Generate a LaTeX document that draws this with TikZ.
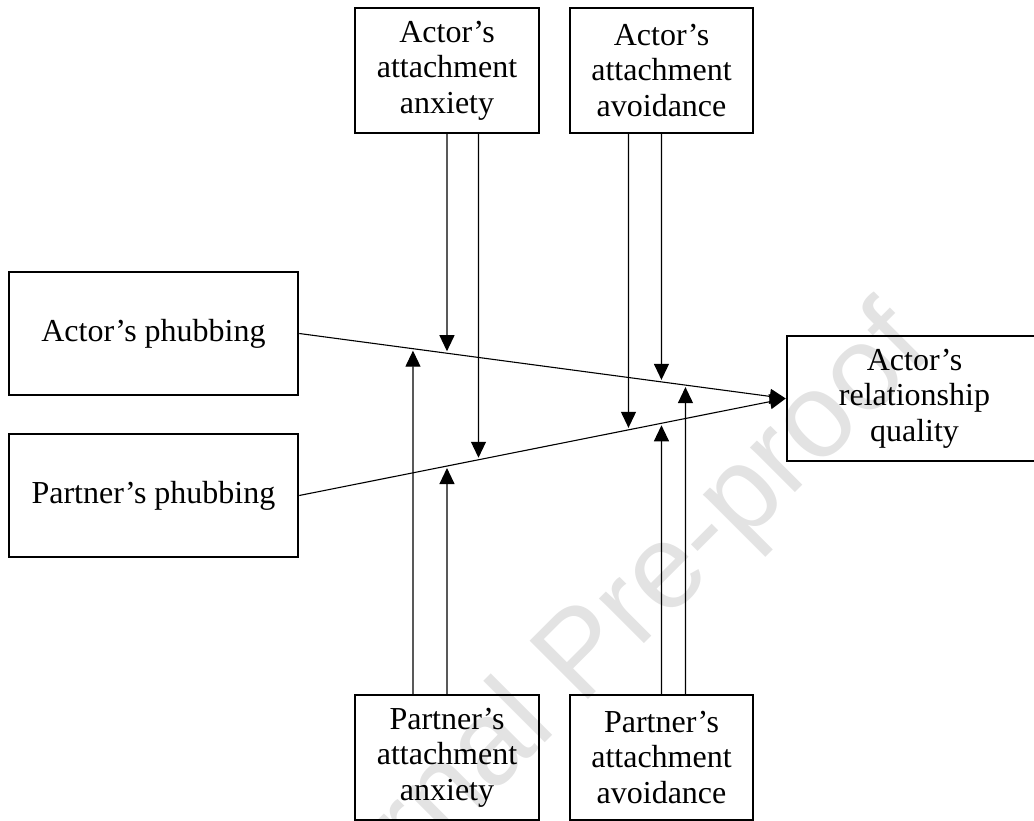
\documentclass[tikz,border=0pt]{standalone}
\usepackage{fontspec}
\setmainfont{Liberation Serif}
\newfontfamily\wmfont{Liberation Sans}
\usetikzlibrary{arrows.meta,calc}
\begin{document}
\begin{tikzpicture}[x=1pt,y=-1pt,
  box/.style={draw, line width=2.5pt, inner sep=0pt, align=center, font=\fontsize{32}{35.5}\selectfont},
  link/.style={line width=1.1pt, -{Triangle[length=16pt,width=15pt]}},
  mod/.style={link, shorten >=2pt},
  wm/.style={inner sep=0pt, anchor=base west, rotate=45, text=black!11, font=\wmfont\fontsize{120}{120}\selectfont}]
\useasboundingbox (0,0) rectangle (1034,821);
\begin{scope}
\clip (0,0) rectangle (1034,821);
\node[wm] (mark) at (280,1008) {Journal Pre-proof};
\node[box, minimum width=184pt, minimum height=125pt] (aanx) at (447,70.5) {Actor’s\\attachment\\anxiety};
\node[box, minimum width=183pt, minimum height=125pt] (aavo) at (661.5,70.5) {Actor’s\\attachment\\avoidance};
\node[box, minimum width=184pt, minimum height=125pt] (panx) at (447,757.5) {Partner’s\\attachment\\anxiety};
\node[box, minimum width=183pt, minimum height=125pt] (pavo) at (661.5,757.5) {Partner’s\\attachment\\avoidance};
\node[box, minimum width=289pt, minimum height=123pt] (ap) at (153.5,333.5) {Actor’s phubbing};
\node[box, minimum width=289pt, minimum height=123pt] (pp) at (153.5,495.5) {Partner’s phubbing};
\node[box, minimum width=255pt, minimum height=125pt] (rq) at (914.5,398.5) {Actor’s\\relationship\\quality};
\draw[link] (ap.east) -- (rq.west);
\draw[link] (pp.east) -- (rq.west);
\coordinate (a1) at (aanx.south);
\coordinate (a1b) at ($(a1)+(0,300)$);
\coordinate (a2) at ($(aanx.south)+(31.5,0)$);
\coordinate (a2b) at ($(a2)+(0,300)$);
\coordinate (v1) at ($(aavo.south)+(-33,0)$);
\coordinate (v1b) at ($(v1)+(0,300)$);
\coordinate (v2) at (aavo.south);
\coordinate (v2b) at ($(v2)+(0,300)$);
\coordinate (p1) at ($(panx.north)+(-34,0)$);
\coordinate (p1b) at ($(p1)+(0,-300)$);
\coordinate (p2) at (panx.north);
\coordinate (p2b) at ($(p2)+(0,-300)$);
\coordinate (q1) at (pavo.north);
\coordinate (q1b) at ($(q1)+(0,-300)$);
\coordinate (q2) at ($(pavo.north)+(24,0)$);
\coordinate (q2b) at ($(q2)+(0,-300)$);
\draw[mod] (a1) -- (intersection of a1--a1b and ap.east--rq.west);
\draw[mod] (a2) -- (intersection of a2--a2b and pp.east--rq.west);
\draw[mod] (v1) -- (intersection of v1--v1b and pp.east--rq.west);
\draw[mod] (v2) -- (intersection of v2--v2b and ap.east--rq.west);
\draw[mod] (p1) -- (intersection of p1--p1b and ap.east--rq.west);
\draw[mod] (p2) -- (intersection of p2--p2b and pp.east--rq.west);
\draw[mod] (q1) -- (intersection of q1--q1b and pp.east--rq.west);
\draw[mod] (q2) -- (intersection of q2--q2b and ap.east--rq.west);
\end{scope}
\end{tikzpicture}
\end{document}
